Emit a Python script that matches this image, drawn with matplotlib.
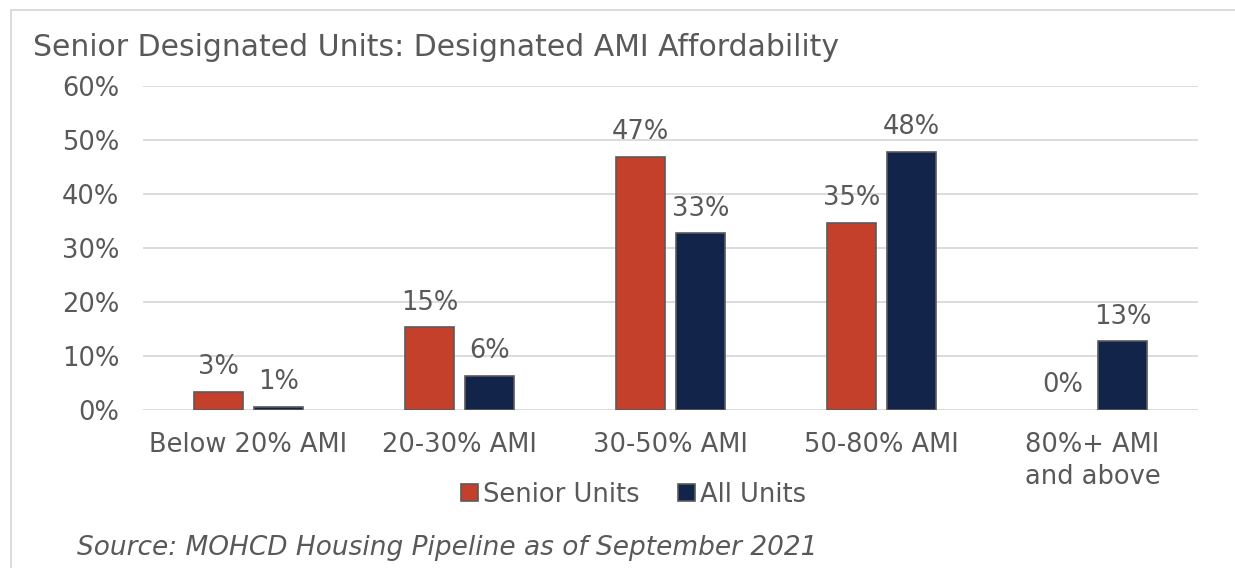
import numpy as np
import matplotlib
matplotlib.use('Agg')
import matplotlib.pyplot as plt
from matplotlib.patches import Rectangle

categories = ['Below 20% AMI', '20-30% AMI', '30-50% AMI', '50-80% AMI', '80%+ AMI\nand above']
senior_units = [3.4, 15.3, 46.9, 34.6, 0.0]
all_units = [0.6, 6.3, 32.7, 47.8, 12.7]
series_names = ['Senior Units', 'All Units']
yticks = [0, 10, 20, 30, 40, 50, 60]

red = '#C4402A'
navy = '#13244A'
txt = '#595959'
fs = 18.5

plt.rcParams['font.family'] = ['DejaVu Sans']

fig = plt.figure(figsize=(12.35, 5.68), dpi=100)
ax = fig.add_axes([0.1158, 0.278, 0.8542, 0.5706])

x = np.arange(len(categories))
w = 0.232
off = 0.143
b1 = ax.bar(x - off, senior_units, w, color=red, edgecolor='#5a5a5a', linewidth=1.2, label=series_names[0], zorder=3)
b2 = ax.bar(x + off, all_units, w, color=navy, edgecolor='#5a5a5a', linewidth=1.2, label=series_names[1], zorder=3)
for bars, vals in [(b1, senior_units), (b2, all_units)]:
    for r, v in zip(bars, vals):
        if v == 0:
            r.set_linewidth(0)

for bars, vals in [(b1, senior_units), (b2, all_units)]:
    for r, v in zip(bars, vals):
        ax.text(r.get_x() + r.get_width() / 2, v + 2.2, '{:.0f}%'.format(v), ha='center', va='bottom',
                fontsize=fs, color=txt)

ax.set_xlim(-0.5, len(categories) - 0.5)
ax.set_ylim(0, 60)
ax.set_yticks(yticks)
ax.set_yticklabels(['{}%'.format(t) for t in yticks], fontsize=fs, color=txt)
ax.set_xticks(x)
ax.set_xticklabels(categories, fontsize=fs, color=txt, linespacing=1.3)
ax.tick_params(length=0, pad=17)
ax.tick_params(axis='x', pad=16)
ax.grid(axis='y', color='#d9d9d9', linewidth=1.3, zorder=0)
for s in ax.spines.values():
    s.set_visible(False)

leg = ax.legend(loc='upper center', bbox_to_anchor=(0.465, -0.15), ncol=2, frameon=False,
                fontsize=fs, handlelength=0.65, handleheight=0.65, handletextpad=0.2, columnspacing=1.5)
for t in leg.get_texts():
    t.set_color(txt)

fig.text(0.027, 0.917, 'Senior Designated Units: Designated AMI Affordability', fontsize=21.5, color=txt,
         ha='left', va='center')
fig.text(0.062, 0.035, 'Source: MOHCD Housing Pipeline as of September 2021', fontsize=19, color=txt,
         style='italic', ha='left', va='center')

fig.patches.append(Rectangle((0.0089, -0.05), 1.1, 0.9824 + 0.05, transform=fig.transFigure,
                             fill=False, edgecolor='#d9d9d9', linewidth=1.3))

fig.savefig('out.png', dpi=100)
